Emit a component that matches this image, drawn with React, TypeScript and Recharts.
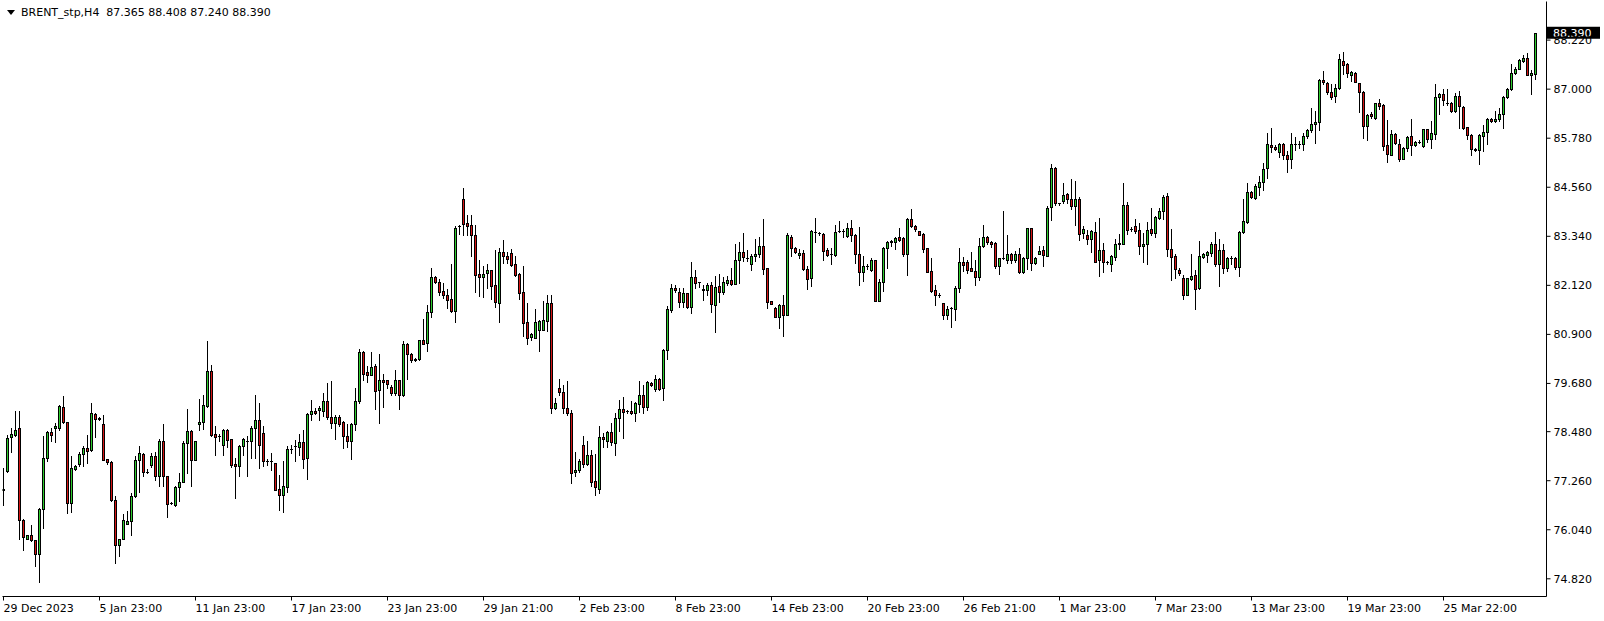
import { ComposedChart, Bar, XAxis, YAxis, ReferenceLine } from "recharts";

const openPrices = [
  77.03, 77.49, 78.34, 78.39, 78.56, 76.29, 75.82, 75.91, 75.78, 75.43,
  76.56, 77.82, 78.48, 78.56, 78.56, 79.10, 78.72, 76.71, 77.56, 77.68,
  77.93, 78.08, 78.02, 78.93, 78.81, 78.68, 77.80, 77.73, 76.79, 75.65,
  75.81, 76.19, 76.25, 76.88, 77.78, 77.93, 77.48, 77.64, 77.87, 77.37,
  78.25, 77.37, 76.70, 76.66, 77.10, 77.23, 78.20, 78.50, 77.78, 78.66,
  78.71, 79.11, 80.00, 78.42, 78.36, 78.14, 78.53, 78.30, 77.68, 77.62,
  78.12, 78.26, 78.24, 78.57, 78.78, 78.45, 77.76, 77.76, 77.70, 77.05,
  76.91, 77.10, 78.05, 78.13, 78.10, 78.22, 77.83, 78.93, 79.00, 79.01,
  79.00, 79.25, 78.85, 78.70, 78.85, 78.72, 78.38, 78.24, 78.67, 79.24,
  80.46, 79.96, 79.90, 80.12, 79.51, 79.76, 79.76, 79.58, 79.44, 79.76,
  79.38, 80.67, 80.41, 80.26, 80.29, 80.75, 80.69, 81.45, 82.32, 82.21,
  81.97, 81.88, 81.77, 81.48, 83.59, 84.27, 83.66, 83.61, 83.38, 82.41,
  82.33, 82.43, 82.49, 82.14, 81.68, 82.95, 82.86, 82.93, 82.66, 82.41,
  81.95, 81.20, 80.84, 80.81, 81.00, 81.02, 81.23, 81.68, 79.07, 79.57,
  79.46, 79.07, 78.95, 77.47, 77.52, 78.16, 77.68, 77.91, 77.26, 77.06,
  78.35, 78.24, 78.47, 78.20, 78.82, 79.05, 78.99, 79.00, 78.95, 79.18,
  79.38, 79.09, 79.70, 79.53, 79.78, 79.56, 80.51, 81.50, 82.06, 81.95,
  81.70, 81.92, 81.58, 82.33, 82.20, 82.03, 82.00, 82.14, 81.63, 82.10,
  81.96, 82.18, 82.26, 82.16, 82.76, 82.95, 82.81, 82.66, 82.85, 82.91,
  83.11, 82.54, 81.73, 81.56, 81.34, 81.64, 81.39, 83.33, 83.05, 82.87,
  82.93, 82.53, 82.30, 83.45, 83.41, 83.39, 83.01, 82.89, 82.87, 83.46,
  83.47, 83.34, 83.55, 83.38, 82.90, 82.46, 82.59, 82.50, 82.74, 81.74,
  82.21, 83.05, 83.20, 83.20, 83.31, 83.29, 82.90, 83.78, 83.60, 83.46,
  83.39, 83.05, 82.48, 82.01, 81.88, 81.68, 81.39, 81.55, 81.54, 82.06,
  82.70, 82.69, 82.54, 82.48, 82.33, 83.10, 83.31, 83.19, 83.18, 82.60,
  82.79, 82.75, 82.90, 82.76, 82.90, 82.46, 82.80, 83.54, 82.68, 82.90,
  82.99, 82.86, 84.07, 85.05, 84.16, 84.22, 84.39, 84.27, 84.09, 84.27,
  83.43, 83.36, 83.28, 83.45, 82.76, 83.00, 82.70, 82.66, 82.83, 83.14,
  83.15, 84.11, 83.53, 83.60, 83.49, 83.10, 83.16, 83.51, 83.43, 83.80,
  83.98, 84.34, 83.03, 82.86, 82.51, 82.29, 81.88, 82.27, 82.37, 82.05,
  82.83, 82.87, 82.93, 83.16, 82.66, 82.99, 82.56, 82.80, 82.80, 82.57,
  83.45, 83.69, 84.45, 84.30, 84.57, 84.70, 85.05, 85.60, 85.56, 85.44,
  85.63, 85.37, 85.27, 85.63, 85.63, 85.63, 85.84, 85.98, 86.13, 86.19,
  87.22, 87.16, 86.93, 86.83, 87.03, 87.71, 87.63, 87.36, 87.41, 87.15,
  86.94, 86.08, 86.37, 86.28, 86.65, 86.60, 85.60, 85.37, 85.88, 85.63,
  85.27, 85.54, 85.84, 85.61, 85.69, 85.59, 86.00, 85.77, 85.89, 86.81,
  86.89, 86.66, 86.66, 86.46, 86.83, 86.56, 86.06, 85.86, 85.52, 85.49,
  85.83, 85.93, 86.25, 86.21, 86.25, 86.37, 86.81, 87.00, 87.40, 87.51,
  87.70, 87.78, 87.35, 87.365
];

const highPrices = [
  77.58, 78.40, 78.57, 79.00, 78.99, 76.30, 75.92, 76.15, 75.79, 76.57,
  78.37, 78.49, 78.57, 78.70, 79.14, 79.36, 78.73, 77.87, 77.66, 77.97,
  78.12, 78.40, 79.19, 78.95, 78.85, 78.90, 77.81, 77.74, 76.87, 75.82,
  76.43, 76.50, 76.96, 77.87, 78.13, 77.95, 77.55, 77.95, 77.97, 78.30,
  78.68, 77.38, 76.72, 77.12, 77.45, 78.26, 79.04, 78.53, 78.25, 79.30,
  79.40, 80.73, 80.15, 78.61, 78.41, 78.55, 78.55, 78.31, 77.82, 78.16,
  78.32, 78.36, 78.63, 79.38, 79.19, 78.61, 77.80, 77.95, 77.71, 77.39,
  77.74, 78.12, 78.16, 78.27, 78.42, 78.53, 78.95, 79.28, 79.07, 79.11,
  79.44, 79.69, 79.73, 78.89, 78.89, 78.74, 78.68, 78.70, 79.57, 80.54,
  80.48, 80.11, 80.46, 80.17, 80.40, 79.92, 79.77, 79.63, 80.02, 79.77,
  80.73, 80.69, 80.44, 80.32, 80.77, 81.29, 81.63, 82.54, 82.35, 82.28,
  82.18, 82.02, 82.66, 83.59, 83.61, 84.55, 83.88, 83.86, 83.61, 82.76,
  82.60, 82.64, 82.51, 83.01, 83.05, 83.24, 82.95, 83.03, 82.85, 82.42,
  82.61, 81.67, 80.94, 81.53, 81.25, 81.73, 81.89, 81.89, 79.32, 79.78,
  79.65, 79.75, 79.01, 77.98, 77.80, 78.38, 78.24, 78.02, 77.93, 78.61,
  78.45, 78.50, 78.70, 78.95, 79.26, 79.34, 79.03, 79.24, 79.21, 79.75,
  79.65, 79.73, 79.71, 79.90, 79.82, 80.54, 81.60, 82.16, 82.12, 82.06,
  82.06, 81.93, 82.70, 82.49, 82.21, 82.14, 82.18, 82.20, 82.35, 82.39,
  82.32, 82.35, 82.55, 83.14, 83.20, 83.41, 82.99, 82.91, 83.26, 83.33,
  83.76, 82.55, 81.74, 81.57, 81.65, 81.87, 83.41, 83.36, 83.08, 83.03,
  83.01, 82.61, 83.49, 83.80, 83.44, 83.41, 83.05, 83.05, 83.61, 83.72,
  83.51, 83.66, 83.74, 83.39, 83.58, 82.85, 82.64, 82.80, 82.75, 82.27,
  83.08, 83.22, 83.24, 83.33, 83.55, 83.33, 83.80, 84.03, 83.63, 83.48,
  83.41, 83.06, 82.81, 82.14, 81.93, 81.69, 81.60, 81.57, 82.10, 83.05,
  82.82, 82.76, 82.95, 82.74, 83.29, 83.61, 83.34, 83.22, 83.19, 82.80,
  83.98, 83.36, 82.93, 82.97, 83.05, 82.82, 83.55, 83.55, 82.83, 83.10,
  83.11, 84.09, 85.13, 85.06, 84.17, 84.66, 84.41, 84.76, 84.72, 84.32,
  83.59, 83.49, 83.49, 83.69, 83.80, 83.18, 82.73, 82.88, 83.28, 83.39,
  84.67, 84.20, 83.56, 83.78, 83.68, 83.43, 83.70, 84.04, 83.84, 84.05,
  84.36, 84.41, 83.51, 82.89, 82.56, 82.37, 82.31, 82.89, 82.51, 83.22,
  82.93, 82.97, 83.20, 83.44, 83.26, 83.14, 82.83, 82.85, 82.83, 83.47,
  84.26, 84.67, 84.46, 84.63, 84.84, 85.17, 85.90, 86.04, 85.60, 85.67,
  85.67, 85.46, 85.90, 85.82, 85.71, 85.90, 86.02, 86.52, 86.46, 87.25,
  87.44, 87.18, 87.12, 87.12, 87.87, 87.93, 87.66, 87.45, 87.43, 87.16,
  86.96, 86.37, 86.43, 86.66, 86.75, 86.62, 86.23, 85.98, 85.90, 85.75,
  85.57, 85.83, 86.25, 85.71, 85.73, 86.02, 86.02, 86.21, 87.12, 86.90,
  87.01, 87.01, 86.68, 86.91, 86.95, 86.57, 86.07, 85.88, 85.54, 85.88,
  86.10, 86.29, 86.29, 86.46, 86.54, 86.83, 87.04, 87.62, 87.54, 87.74,
  87.84, 87.91, 87.48, 88.408
];

const lowPrices = [
  76.66, 77.47, 77.97, 78.38, 75.81, 75.53, 75.81, 75.77, 75.13, 74.73,
  76.08, 77.74, 78.26, 78.23, 78.53, 78.70, 76.45, 76.47, 77.53, 77.63,
  77.63, 77.70, 78.01, 78.35, 78.76, 77.77, 77.68, 76.76, 75.21, 75.39,
  75.80, 76.18, 75.90, 76.86, 76.99, 77.37, 77.45, 77.60, 77.29, 77.12,
  77.12, 76.36, 76.67, 76.64, 76.75, 77.22, 77.45, 77.12, 77.77, 78.53,
  78.55, 79.10, 78.37, 77.91, 78.24, 77.91, 78.11, 77.60, 76.83, 77.37,
  77.91, 77.37, 77.82, 77.82, 77.58, 77.63, 77.66, 77.53, 77.03, 76.52,
  76.47, 76.98, 77.95, 77.74, 77.91, 77.58, 77.30, 78.78, 78.93, 78.78,
  78.86, 78.80, 78.57, 78.30, 78.63, 78.07, 78.11, 77.80, 78.53, 79.20,
  79.76, 79.71, 79.88, 79.05, 78.70, 79.10, 79.57, 79.38, 79.38, 79.05,
  79.37, 79.79, 80.21, 80.24, 80.27, 80.66, 80.48, 81.34, 82.18, 81.89,
  81.81, 81.56, 81.45, 81.20, 83.39, 83.36, 83.36, 82.86, 81.95, 81.85,
  81.83, 82.06, 81.77, 81.58, 81.20, 82.68, 82.68, 82.60, 82.35, 81.77,
  80.85, 80.65, 80.77, 80.80, 80.48, 81.00, 80.98, 78.95, 79.05, 79.38,
  78.95, 78.90, 77.20, 77.37, 77.47, 77.60, 77.66, 77.12, 76.91, 76.95,
  78.10, 78.11, 78.16, 77.91, 78.49, 78.32, 78.95, 78.93, 78.74, 78.96,
  78.95, 79.01, 79.61, 79.49, 79.51, 79.26, 80.30, 81.45, 81.95, 81.58,
  81.58, 81.56, 81.42, 82.06, 82.08, 81.75, 81.89, 81.45, 80.95, 81.70,
  81.90, 82.12, 82.14, 82.15, 82.18, 82.72, 82.72, 82.50, 82.72, 82.83,
  82.39, 81.56, 81.65, 81.33, 81.06, 80.85, 81.37, 82.85, 82.93, 82.79,
  82.51, 82.02, 82.10, 83.19, 83.36, 82.75, 82.85, 82.64, 82.86, 83.44,
  83.33, 83.33, 83.22, 82.68, 82.14, 82.22, 82.53, 82.47, 81.73, 81.73,
  81.98, 82.56, 83.11, 83.03, 83.22, 82.85, 82.37, 83.58, 83.47, 83.36,
  82.95, 82.45, 81.96, 81.63, 81.82, 81.29, 81.29, 81.09, 81.25, 81.95,
  82.47, 82.43, 82.47, 82.12, 82.25, 83.08, 83.16, 83.08, 82.54, 82.39,
  82.78, 82.68, 82.68, 82.71, 82.42, 82.43, 82.52, 82.50, 82.66, 82.89,
  82.60, 82.85, 83.74, 84.13, 84.11, 84.16, 84.17, 84.02, 83.61, 83.24,
  83.30, 83.16, 82.95, 82.70, 82.35, 82.45, 82.65, 82.47, 82.76, 83.03,
  83.14, 83.39, 83.47, 83.41, 82.91, 82.70, 82.64, 83.36, 83.33, 83.77,
  83.78, 82.85, 82.25, 82.29, 82.37, 81.79, 81.87, 82.25, 81.53, 82.02,
  82.81, 82.70, 82.85, 82.61, 82.10, 82.43, 82.47, 82.66, 82.53, 82.35,
  83.43, 83.68, 84.30, 84.26, 84.36, 84.49, 84.80, 85.44, 85.48, 85.32,
  85.27, 84.94, 85.05, 85.49, 85.54, 85.49, 85.79, 85.94, 85.65, 85.98,
  87.12, 86.87, 86.75, 86.68, 87.01, 87.37, 87.31, 87.20, 87.18, 86.42,
  85.79, 85.73, 86.29, 86.25, 86.50, 85.49, 85.19, 85.36, 85.63, 85.21,
  85.25, 85.46, 85.35, 85.59, 85.65, 85.57, 85.69, 85.54, 85.75, 86.37,
  86.60, 86.60, 86.42, 86.43, 86.04, 86.00, 85.77, 85.35, 85.46, 85.15,
  85.46, 85.63, 86.18, 86.18, 86.21, 86.04, 86.79, 86.98, 87.37, 87.49,
  87.68, 87.34, 86.87, 87.240
];

const closePrices = [
  77.05, 78.32, 78.41, 78.53, 76.29, 75.85, 75.91, 75.78, 75.43, 76.56,
  77.82, 78.48, 78.39, 78.63, 79.11, 78.71, 76.70, 77.58, 77.63, 77.93,
  78.08, 78.00, 78.95, 78.80, 78.80, 77.78, 77.72, 76.77, 75.65, 75.81,
  76.28, 76.26, 76.88, 77.78, 77.95, 77.47, 77.48, 77.87, 77.37, 78.26,
  77.37, 76.68, 76.70, 77.10, 77.23, 78.20, 78.50, 77.78, 78.24, 78.73,
  79.15, 80.00, 78.40, 78.35, 78.36, 78.53, 78.28, 77.66, 77.62, 78.13,
  78.30, 78.26, 78.57, 78.78, 78.16, 77.74, 77.76, 77.76, 77.04, 76.91,
  77.14, 78.05, 78.05, 78.13, 78.22, 77.80, 78.93, 79.00, 78.95, 79.06,
  79.25, 78.85, 78.70, 78.85, 78.66, 78.37, 78.24, 78.67, 79.25, 80.46,
  79.92, 79.90, 80.09, 79.48, 79.76, 79.71, 79.67, 79.44, 79.76, 79.38,
  80.67, 80.42, 80.27, 80.30, 80.75, 80.67, 81.46, 82.32, 82.20, 81.96,
  81.89, 81.75, 81.48, 83.55, 83.59, 83.65, 83.59, 83.36, 82.37, 82.33,
  82.39, 82.49, 82.10, 81.70, 82.95, 82.85, 82.78, 82.62, 82.37, 81.93,
  81.19, 80.81, 80.90, 81.21, 81.23, 81.27, 81.68, 79.07, 79.19, 79.46,
  79.07, 78.95, 77.45, 77.53, 77.76, 77.68, 77.91, 77.24, 77.10, 78.35,
  78.30, 78.47, 78.22, 78.82, 79.05, 78.97, 78.99, 78.95, 79.20, 79.38,
  79.09, 79.71, 79.63, 79.78, 79.53, 80.52, 81.54, 82.06, 82.00, 81.70,
  81.93, 81.58, 82.33, 82.18, 82.20, 82.00, 82.14, 81.66, 82.07, 81.95,
  82.21, 82.26, 82.16, 82.76, 82.95, 82.83, 82.81, 82.85, 82.91, 83.11,
  82.53, 81.70, 81.66, 81.34, 81.64, 81.39, 83.36, 83.05, 82.95, 82.93,
  82.53, 82.28, 83.46, 83.45, 83.41, 82.97, 82.87, 82.89, 83.45, 83.46,
  83.47, 83.55, 83.37, 82.90, 82.46, 82.61, 82.59, 82.74, 81.74, 82.21,
  83.06, 83.20, 83.23, 83.30, 83.25, 82.90, 83.78, 83.60, 83.52, 83.38,
  83.03, 82.46, 81.97, 81.88, 81.88, 81.39, 81.54, 81.55, 82.06, 82.70,
  82.62, 82.51, 82.48, 82.33, 83.10, 83.33, 83.20, 83.15, 82.60, 82.79,
  82.79, 82.90, 82.74, 82.90, 82.44, 82.80, 83.54, 82.68, 82.80, 82.98,
  82.87, 84.05, 85.05, 84.16, 84.16, 84.37, 84.27, 84.09, 84.27, 83.39,
  83.53, 83.28, 83.48, 82.71, 83.00, 82.70, 82.70, 82.84, 83.15, 83.18,
  84.11, 83.49, 83.53, 83.47, 83.10, 83.16, 83.49, 83.43, 83.82, 83.98,
  84.31, 83.03, 82.83, 82.53, 82.43, 81.88, 82.29, 82.35, 82.03, 82.86,
  82.91, 82.95, 83.16, 82.64, 82.99, 82.56, 82.81, 82.80, 82.57, 83.45,
  83.73, 84.45, 84.32, 84.58, 84.70, 85.02, 85.63, 85.56, 85.52, 85.63,
  85.37, 85.25, 85.63, 85.63, 85.63, 85.84, 85.98, 86.14, 86.19, 87.22,
  87.18, 86.93, 86.80, 87.04, 87.74, 87.61, 87.39, 87.43, 87.19, 86.94,
  86.08, 86.35, 86.32, 86.65, 86.57, 85.58, 85.39, 85.88, 85.67, 85.27,
  85.54, 85.82, 85.61, 85.69, 85.69, 86.00, 85.75, 85.92, 86.81, 86.87,
  86.73, 86.66, 86.46, 86.83, 86.58, 86.04, 85.86, 85.52, 85.49, 85.85,
  85.93, 86.25, 86.21, 86.25, 86.37, 86.81, 87.01, 87.41, 87.51, 87.72,
  87.78, 87.35, 87.40, 88.390
];

// one label every 24 bars (4 trading days of H4)
const xTickLabels = [
  "29 Dec 2023", "5 Jan 23:00", "11 Jan 23:00", "17 Jan 23:00", "23 Jan 23:00",
  "29 Jan 21:00", "2 Feb 23:00", "8 Feb 23:00", "14 Feb 23:00", "20 Feb 23:00",
  "26 Feb 21:00", "1 Mar 23:00", "7 Mar 23:00", "13 Mar 23:00", "19 Mar 23:00",
  "25 Mar 22:00"
];
const yTickValues = [74.82, 76.04, 77.26, 78.48, 79.68, 80.9, 82.12, 83.34, 84.56, 85.78, 87.0, 88.22];
const lastPrice = 88.39;
const titleText = "BRENT_stp,H4  87.365 88.408 87.240 88.390";

const BAR_STEP = 24;
const xTicks = xTickLabels.map((_, i) => i * BAR_STEP);
const X_DOMAIN: [number, number] = [-0.25, 385.75];
const Y_DOMAIN: [number, number] = [74.38, 89.18];

const UP = "#2ecc2e";
const DOWN = "#d41414";
const FONT = "DejaVu Sans";

const rows = openPrices.map((o, i) => ({
  idx: i,
  open: o,
  high: highPrices[i],
  low: lowPrices[i],
  close: closePrices[i],
  range: [lowPrices[i], highPrices[i]]
}));

function Candle(props: any) {
  const { x, y, width, height, payload } = props;
  if (x == null || y == null || !payload) return null;
  const top = Math.min(y, y + height);
  const bottom = Math.max(y, y + height);
  const span = payload.high - payload.low;
  const toY = (v: number) =>
    span > 0 ? top + ((payload.high - v) / span) * (bottom - top) : top;
  const cx = Math.round(x + width / 2 - 0.5) + 0.5;
  const yo = toY(payload.open);
  const yc = toY(payload.close);
  const bTop = Math.round(Math.min(yo, yc)) + 0.5;
  const bBot = Math.round(Math.max(yo, yc)) + 0.5;
  const up = payload.close >= payload.open;
  return (
    <g>
      <line
        x1={cx}
        x2={cx}
        y1={Math.round(top)}
        y2={Math.round(bottom) + 1}
        stroke="#000"
        strokeWidth={1}
      />
      {bBot - bTop < 1 ? (
        <line x1={cx - 1.5} x2={cx + 1.5} y1={bTop} y2={bTop} stroke="#000" strokeWidth={1} />
      ) : (
        <rect
          x={cx - 1}
          y={bTop}
          width={2}
          height={bBot - bTop}
          fill={up ? UP : DOWN}
          stroke="#000"
          strokeWidth={1}
        />
      )}
    </g>
  );
}

function DateTick(props: any) {
  const { x, y, payload } = props;
  const label = xTickLabels[Math.round(payload.value / BAR_STEP)] ?? "";
  return (
    <text x={x} y={y + 9.5} textAnchor="start" fill="#000" fontSize={11} fontFamily={FONT}>
      {label}
    </text>
  );
}

function PriceTag(props: any) {
  const vb = props.viewBox;
  if (!vb) return null;
  const left = vb.x + vb.width + 0.5;
  return (
    <g>
      <rect x={left} y={vb.y - 6.5} width={53} height={12} fill="#000" />
      <text
        x={left + 6}
        y={vb.y + 4}
        fill="#fff"
        fontSize={11}
        fontFamily={FONT}
      >
        {lastPrice.toFixed(3)}
      </text>
    </g>
  );
}

export default function App() {
  return (
    <div style={{ position: "absolute", left: 0, top: 0, width: 1604, height: 621, background: "#fff" }}>
      <ComposedChart
        width={1604}
        height={621}
        data={rows}
        margin={{ top: 1.5, right: 0, bottom: 0, left: 2.5 }}
      >
        <XAxis
          dataKey="idx"
          type="number"
          domain={X_DOMAIN}
          allowDataOverflow
          ticks={xTicks}
          interval={0}
          height={24.5}
          tickSize={4}
          tickMargin={2}
          axisLine={{ stroke: "#000" }}
          tickLine={{ stroke: "#000" }}
          tick={<DateTick />}
        />
        <XAxis
          xAxisId="top"
          orientation="top"
          dataKey="idx"
          type="number"
          domain={X_DOMAIN}
          allowDataOverflow
          height={0}
          tick={false}
          tickLine={false}
          axisLine={{ stroke: "#000" }}
        />
        <YAxis
          orientation="right"
          type="number"
          domain={Y_DOMAIN}
          allowDataOverflow
          ticks={yTickValues}
          interval={0}
          width={57.5}
          tickSize={4}
          tickMargin={3}
          axisLine={{ stroke: "#000" }}
          tickLine={{ stroke: "#000" }}
          tick={{ fill: "#000", fontSize: 11, fontFamily: FONT }}
          tickFormatter={(v: number) => v.toFixed(3)}
        />
        <YAxis
          yAxisId="left"
          orientation="left"
          type="number"
          domain={Y_DOMAIN}
          allowDataOverflow
          width={0}
          tick={false}
          tickLine={false}
          axisLine={{ stroke: "#000" }}
        />
        <Bar dataKey="range" barSize={3} shape={<Candle />} isAnimationActive={false} />
        <ReferenceLine y={lastPrice} stroke="none" label={<PriceTag />} />
      </ComposedChart>
      <svg
        width={320}
        height={22}
        style={{ position: "absolute", left: 0, top: 0, pointerEvents: "none" }}
      >
        <polygon points="7,10 15,10 11,15" fill="#000" />
        <text x={21} y={16} fontSize={11} fontFamily={FONT} fill="#000" style={{ whiteSpace: "pre" }}>
          {titleText}
        </text>
      </svg>
    </div>
  );
}
